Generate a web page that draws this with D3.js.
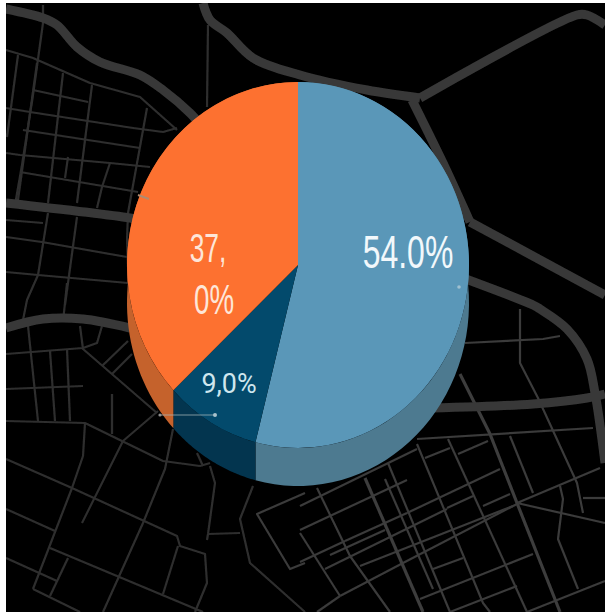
<!DOCTYPE html>
<html>
<head>
<meta charset="utf-8">
<script src="https://cdn.jsdelivr.net/npm/d3@7"></script>
<style>
  html, body { margin: 0; padding: 0; background: #fff; overflow: hidden; }
  svg { display: block; }
</style>
</head>
<body>
<div id="chart"></div>
<script>
// DATA
const categories = ["A", "B", "C"];
const values = [54.0, 9.0, 37.0];
const topColors = ["#5a97b8", "#034a6c", "#fd7130"];
const sideColors = ["#4d7a90", "#03354f", "#c5622c"];

// map behind the pie
const thickRoads = [
  [[6,9],[43,18],[57,25],[77,47],[100,62],[140,75],[163,90],[190,113],[205,130]],
  [[203,3],[210,20],[227,33],[253,58],[300,75],[367,90],[420,98]],
  [[420,98],[577,15],[587,15],[605,25]],
  [[412,100],[443,163],[470,222]],
  [[470,222],[605,295]],
  [[455,275],[533,305],[540,309],[567,329],[587,359],[595,393],[605,463]],
  [[430,408],[533,404],[587,398],[605,394]],
  [[6,203],[130,218],[150,222]],
  [[6,328],[43,319],[83,319],[130,328]]
];
const thinRoads = [
  [[43,5],[43,23],[33,95],[22,165],[15,205]],
  [[6,50],[33,58],[90,83],[140,97],[177,130]],
  [[18,55],[7,137]],
  [[37,63],[17,207]],
  [[63,73],[48,203]],
  [[92,85],[77,203]],
  [[147,108],[128,213],[127,240],[130,320]],
  [[33,90],[88,102]],
  [[6,108],[30,112],[133,128],[163,132],[177,128]],
  [[23,130],[140,148]],
  [[6,153],[20,155],[110,163],[150,167]],
  [[20,172],[138,192]],
  [[68,157],[65,178]],
  [[110,163],[102,187],[97,208]],
  [[208,25],[207,107]],
  [[6,220],[43,223]],
  [[48,213],[38,275],[27,300],[22,325]],
  [[6,237],[42,242],[127,257]],
  [[6,272],[38,275],[128,283]],
  [[67,283],[63,322]],
  [[77,217],[65,305]],
  [[28,326],[38,421]],
  [[50,351],[55,421]],
  [[67,349],[70,421]],
  [[6,354],[83,348],[97,343],[102,326]],
  [[80,326],[83,349],[157,413]],
  [[6,389],[83,386]],
  [[6,421],[85,423],[163,461],[200,466],[210,463]],
  [[85,423],[83,456],[72,488],[33,589]],
  [[102,366],[128,341]],
  [[112,374],[132,354]],
  [[112,394],[112,434]],
  [[123,441],[158,411]],
  [[123,441],[82,523]],
  [[173,429],[165,469],[143,523],[103,612]],
  [[6,459],[72,488],[177,536],[180,546],[205,554],[207,583],[195,612]],
  [[178,546],[163,594]],
  [[6,509],[55,531]],
  [[50,548],[203,612]],
  [[68,558],[50,596]],
  [[6,558],[57,581]],
  [[33,589],[80,612]],
  [[197,453],[203,466]],
  [[210,466],[215,483],[208,534],[207,540]],
  [[208,534],[240,533]],
  [[253,486],[240,519],[250,563],[305,612]]
];
const thinRoadsRight = [
  [[305,493],[257,514],[290,569],[305,563]],
  [[520,309],[520,363],[538,398],[577,483],[583,513]],
  [[465,343],[543,339],[560,336]],
  [[417,439],[593,428]],
  [[510,436],[533,493]],
  [[600,468],[517,503],[605,523]],
  [[560,486],[563,499],[558,539],[578,589]],
  [[583,498],[605,498]],
  [[417,444],[483,603],[490,612]],
  [[448,439],[527,612]],
  [[425,458],[450,448]],
  [[458,454],[488,441]],
  [[300,506],[417,449]],
  [[300,530],[407,480]],
  [[407,513],[500,469]],
  [[345,541],[407,513]],
  [[330,555],[385,530]],
  [[447,508],[473,496]],
  [[483,506],[510,494]],
  [[360,566],[513,506]],
  [[325,569],[447,509]],
  [[300,562],[345,541]],
  [[340,596],[403,563],[517,504]],
  [[317,612],[340,596]],
  [[420,599],[533,554]],
  [[433,569],[463,558]],
  [[450,612],[517,586]],
  [[527,612],[605,581]],
  [[317,488],[350,556],[390,612]],
  [[385,479],[433,589]],
  [[388,463],[450,612]],
  [[300,533],[340,596]]
];
const heavyRoadsRight = [
  [[460,374],[490,434],[517,503],[560,612]],
  [[365,478],[423,612]]
];

const width = 605, height = 612;

const svg = d3.select("#chart").append("svg")
  .attr("width", width)
  .attr("height", height);

// the source is a soft photo, a small blur gets the edges closer
svg.append("defs").append("filter")
    .attr("id", "soft")
  .append("feGaussianBlur")
    .attr("stdDeviation", 0.5);

// photo area, leaves the thin white strip left and top
svg.append("rect")
  .attr("x", 6).attr("y", 3)
  .attr("width", width - 6).attr("height", height - 3)
  .attr("fill", "#000");

// ROADS
const roads = svg.append("g")
  .attr("clip-path", "url(#photo)")
  .attr("filter", "url(#soft)");

svg.select("defs").append("clipPath")
    .attr("id", "photo")
  .append("rect")
    .attr("x", 6).attr("y", 3)
    .attr("width", width - 6).attr("height", height - 3);

const drawRoads = (rows, color, w, curve) => roads.append("g")
    .attr("fill", "none")
    .attr("stroke", color)
    .attr("stroke-width", w)
    .attr("stroke-linejoin", "round")
  .selectAll("path")
  .data(rows)
  .join("path")
    .attr("d", d3.line().curve(curve));

drawRoads(thinRoads, "#2e2e2e", 2.2, d3.curveLinear);
drawRoads(thinRoadsRight, "#3a3a3a", 2.2, d3.curveLinear);
drawRoads(heavyRoadsRight, "#3c3c3c", 3.2, d3.curveLinear);
drawRoads(thickRoads, "#383838", 9, d3.curveCatmullRom);

// PIE
const cx = 298, cy = 265, rx = 171, ry = 183, depth = 38;
const arcs = d3.pie().sort(null)(values);

const px = a => cx + rx * Math.sin(a);
const py = a => cy - ry * Math.cos(a);

// outer wall of a slice: top rim forward, bottom rim back
const wallPath = d => {
  const steps = d3.range(0, 61).map(i => d.startAngle + (d.endAngle - d.startAngle) * i / 60);
  const top = steps.map(a => [px(a), py(a)]);
  const bottom = steps.slice().reverse().map(a => [px(a), py(a) + depth]);
  return d3.line()(top.concat(bottom)) + "Z";
};

svg.append("g").selectAll("path")
  .data(arcs)
  .join("path")
    .attr("d", wallPath)
    .attr("fill", (d, i) => sideColors[i]);

const arc = d3.arc().innerRadius(0).outerRadius(rx);

svg.append("g")
    .attr("transform", `translate(${cx},${cy}) scale(1,${ry / rx})`)
  .selectAll("path")
  .data(arcs)
  .join("path")
    .attr("d", arc)
    .attr("fill", (d, i) => topColors[i]);

// LEADERS
const leaders = svg.append("g").attr("stroke", "#a9b4b8").attr("stroke-width", 1.2);
leaders.append("line").attr("x1", 160).attr("y1", 415).attr("x2", 215).attr("y2", 415).attr("stroke-opacity", 0.75);
leaders.append("circle").attr("cx", 215).attr("cy", 415).attr("r", 2).attr("fill", "#a9c2cc").attr("stroke", "none");
leaders.append("circle").attr("cx", 160).attr("cy", 415).attr("r", 1.6).attr("fill", "#8f8f8f").attr("stroke", "none");
leaders.append("line").attr("x1", 138).attr("y1", 195).attr("x2", 149).attr("y2", 199).attr("stroke", "#b08a70").attr("stroke-width", 2);
leaders.append("circle").attr("cx", 459).attr("cy", 287).attr("r", 1.8).attr("fill", "#9fc0d0").attr("stroke", "none");

// LABELS
const label = (text, x, y, size, sx, fill, family, weight) => svg.append("text")
    .attr("transform", `translate(${x},${y}) scale(${sx},1)`)
    .attr("text-anchor", "middle")
    .attr("font-family", family)
    .attr("font-size", size)
    .attr("font-weight", weight)
    .attr("fill", fill)
    .text(text);

const narrow = "'Liberation Sans', sans-serif";
label(d3.format(".1f")(values[0]) + "%", 408, 268, 47, 0.68, "#f2f8fb", narrow, 400);
label("37,", 208, 262, 40, 0.66, "#fde6d8", narrow, 400);
label("0%", 214, 314, 42, 0.66, "#fde6d8", narrow, 400);
label("9,0%", 229, 393, 28, 0.96, "#cfe6ee", "Roboto, sans-serif", 400);
</script>
</body>
</html>
